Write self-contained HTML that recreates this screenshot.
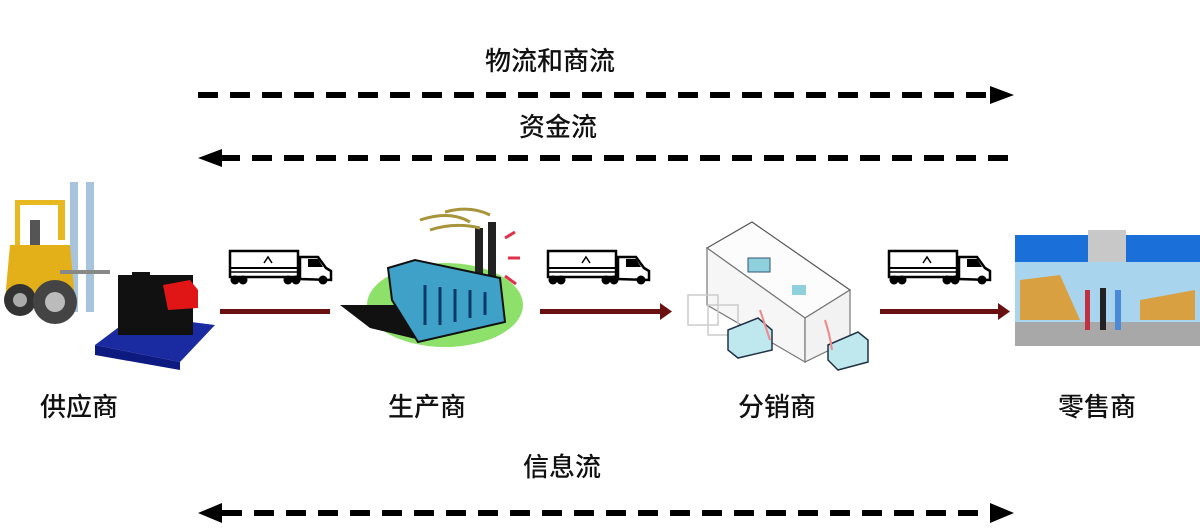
<!DOCTYPE html>
<html><head><meta charset="utf-8"><style>
html,body{margin:0;padding:0;background:#fff;width:1200px;height:529px;overflow:hidden}
svg{display:block}
text{font-family:"Liberation Sans","Noto Sans CJK SC",sans-serif;font-size:26px;fill:#111;font-weight:500}
</style></head><body>
<svg width="1200" height="529" viewBox="0 0 1200 529">
<defs>
<g id="truck">
 <rect x="0" y="0" width="68" height="26" fill="#fff" stroke="#000" stroke-width="2.5"/>
 <line x1="0" y1="17" x2="68" y2="17" stroke="#000" stroke-width="2"/>
 <line x1="0" y1="21" x2="68" y2="21" stroke="#000" stroke-width="1.5"/>
 <polyline points="34,12 38,6 42,12" fill="none" stroke="#000" stroke-width="1.5"/>
 <path d="M70 28 L70 6 L88 6 L96 17 L101 20 L101 29 Z" fill="#fff" stroke="#000" stroke-width="2.5"/>
 <path d="M78 8 L88 8 L93 16 L78 16Z" fill="#000"/>
 <circle cx="5" cy="29" r="4.5" fill="#000"/><circle cx="13" cy="29" r="4.5" fill="#000"/>
 <circle cx="58" cy="29" r="4.5" fill="#000"/><circle cx="66" cy="29" r="4.5" fill="#000"/>
 <circle cx="93" cy="29" r="4.5" fill="#000"/>
</g>
</defs>

<text x="485" y="70">物流和商流</text>
<text x="519" y="136">资金流</text>
<text x="40" y="416">供应商</text>
<text x="388" y="416">生产商</text>
<text x="738" y="416">分销商</text>
<text x="1058" y="416">零售商</text>
<text x="523" y="476">信息流</text>

<line x1="198" y1="95" x2="992" y2="95" stroke="#000" stroke-width="6" stroke-dasharray="20,12"/>
<polygon points="990,86 1014,95 990,104" fill="#000"/>
<line x1="220" y1="158" x2="1014" y2="158" stroke="#000" stroke-width="6" stroke-dasharray="20,12"/>
<polygon points="222,149 198,158 222,167" fill="#000"/>
<line x1="222" y1="513" x2="992" y2="513" stroke="#000" stroke-width="6" stroke-dasharray="20,12"/>
<polygon points="222,503 198,513 222,523" fill="#000"/>
<polygon points="990,503 1014,513 990,523" fill="#000"/>

<rect x="220" y="309" width="110" height="5" fill="#6b1010"/>
<rect x="540" y="309" width="122" height="5" fill="#6b1010"/>
<polygon points="660,303 672,311.5 660,320" fill="#6b1010"/>
<rect x="880" y="309" width="120" height="5" fill="#6b1010"/>
<polygon points="998,303 1010,311.5 998,320" fill="#6b1010"/>

<use href="#truck" x="230" y="251"/>
<use href="#truck" x="548" y="251"/>
<use href="#truck" x="889" y="251"/>

<!-- forklift -->
<rect x="70" y="182" width="8" height="130" fill="#a8c4dc"/>
<rect x="86" y="182" width="8" height="130" fill="#a8c4dc"/>
<path d="M15 200 L65 200 L65 240 L58 240 L58 205 L20 205 L20 250 L15 250Z" fill="#e8b820"/>
<rect x="30" y="220" width="10" height="30" fill="#555"/>
<path d="M10 245 L70 245 L75 300 L5 300Z" fill="#e3b01a"/>
<circle cx="20" cy="300" r="16" fill="#333"/><circle cx="20" cy="300" r="7" fill="#aaa"/>
<circle cx="55" cy="302" r="22" fill="#444"/><circle cx="55" cy="302" r="10" fill="#bbb"/>
<rect x="60" y="270" width="50" height="4" fill="#888"/>
<polygon points="95,345 135,315 215,325 180,362" fill="#1a2aa0"/>
<polygon points="95,345 180,362 180,370 95,355" fill="#0d1a80"/>
<rect x="118" y="275" width="75" height="60" fill="#111"/>
<rect x="132" y="272" width="18" height="15" fill="#111"/>
<polygon points="163,285 190,280 198,290 198,308 168,310" fill="#e01515"/>

<!-- factory -->
<ellipse cx="445" cy="305" rx="78" ry="42" fill="#8de06a"/>
<polygon points="340,305 395,305 420,340 370,328" fill="#111"/>
<rect x="475" y="228" width="8" height="60" fill="#222"/>
<rect x="488" y="222" width="8" height="64" fill="#222"/>
<path d="M420 220 Q450 210 470 222 M430 230 Q455 222 480 228 M445 212 Q470 205 490 215" fill="none" stroke="#a8943a" stroke-width="3"/>
<polygon points="388,268 415,260 500,278 505,322 418,342 392,300" fill="#3fa0c8" stroke="#111" stroke-width="2"/>
<g stroke="#0a3a6a" stroke-width="3">
<line x1="425" y1="285" x2="425" y2="325"/><line x1="440" y1="287" x2="440" y2="325"/><line x1="455" y1="289" x2="455" y2="322"/><line x1="470" y1="290" x2="470" y2="318"/><line x1="485" y1="292" x2="485" y2="315"/>
</g>
<g stroke="#e0304a" stroke-width="3"><line x1="505" y1="238" x2="515" y2="232"/><line x1="508" y1="258" x2="520" y2="258"/><line x1="505" y1="276" x2="516" y2="284"/></g>

<!-- warehouse -->
<polygon points="707,248 752,222 850,290 805,318" fill="#fcfcfc" stroke="#555" stroke-width="1.2"/>
<polygon points="707,248 805,318 805,362 707,305" fill="#f6f6f6" stroke="#777" stroke-width="1.2"/>
<polygon points="805,318 850,290 850,340 805,362" fill="#f2f2f2" stroke="#777" stroke-width="1.2"/>
<rect x="748" y="258" width="22" height="14" fill="#8ed0dc" stroke="#357" stroke-width="1"/>
<rect x="792" y="285" width="14" height="10" fill="#8ed0dc"/>
<g fill="none" stroke="#ccc" stroke-width="1.5"><rect x="688" y="295" width="30" height="30"/><rect x="708" y="305" width="30" height="30"/></g>
<polygon points="728,330 758,318 772,330 772,350 738,358 728,350" fill="#bfe8ee" stroke="#234" stroke-width="1.5"/>
<polygon points="828,345 858,332 868,340 868,362 838,370 828,360" fill="#bfe8ee" stroke="#234" stroke-width="1.5"/>
<path d="M760 310 Q765 325 770 340 M825 320 Q830 335 832 350" stroke="#e88" stroke-width="2" fill="none"/>

<!-- store -->
<rect x="1015" y="235" width="185" height="28" fill="#1a6fd8"/>
<rect x="1088" y="230" width="38" height="36" fill="#c8c8c8"/>
<rect x="1015" y="262" width="185" height="62" fill="#a8d4ee"/>
<polygon points="1020,280 1060,275 1080,320 1020,320" fill="#d8a040"/>
<polygon points="1140,300 1195,290 1195,320 1140,320" fill="#d8a040"/>
<rect x="1015" y="322" width="185" height="24" fill="#a8a8a8"/>
<rect x="1085" y="290" width="5" height="40" fill="#c03040"/>
<rect x="1100" y="288" width="6" height="42" fill="#222"/>
<rect x="1115" y="290" width="6" height="40" fill="#4a8ad8"/>
</svg>
</body></html>
